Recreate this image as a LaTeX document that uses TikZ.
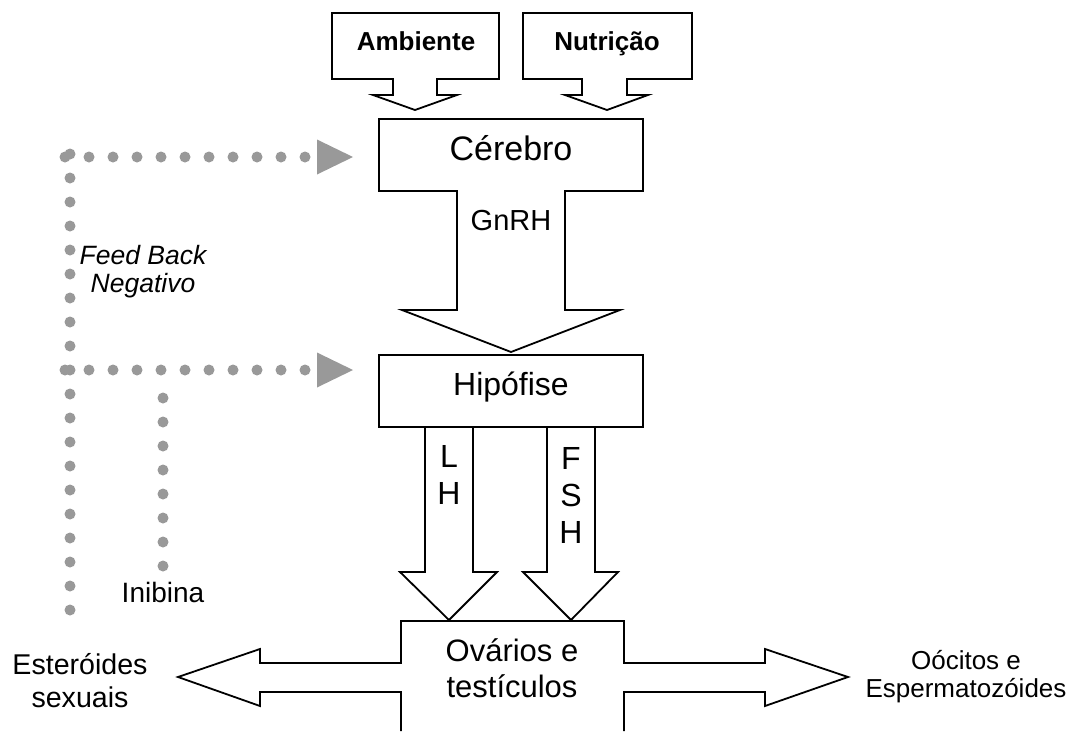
\documentclass[tikz,border=0pt]{standalone}
\usepackage{fontspec}
\setmainfont{Liberation Sans}
\usepackage{tikz}
\definecolor{fbgrey}{HTML}{999999}
\newcommand{\fsz}[2]{\fontsize{#1}{#2}\selectfont}

\begin{document}
\begin{tikzpicture}[x=1pt,y=-1pt,
    outline/.style={draw=black,line width=1.8pt,fill=white,line join=miter},
    dotline/.style={fbgrey,line width=11pt,line cap=round,dash pattern=on 0pt off 24pt},
    lbl/.style={inner sep=0pt,align=center}]
    \useasboundingbox (0,0) rectangle (1073,731);
    % callouts on top
    \draw[outline] (332,13)--(499,13)--(499,79)--(437,79)--(437,95)--(457,95)--(415,110)
      --(373,95)--(393,95)--(393,79)--(332,79)--cycle;
    \draw[outline] (523,13)--(692,13)--(692,79)--(627,79)--(627,95)--(648,95)--(607,110)
      --(565,95)--(582,95)--(582,79)--(523,79)--cycle;
    \node[lbl,font=\fsz{26}{30}\bfseries,anchor=base] (ambiente) at (416,50) {Ambiente};
    \node[lbl,font=\fsz{26}{30}\bfseries,anchor=base] (nutricao) at (607,50) {Nutrição};
    % brain with GnRH arrow
    \draw[outline] (379,119)--(643,119)--(643,191)--(565,191)--(565,310)--(620,310)--(511,352)
      --(402,310)--(457,310)--(457,191)--(379,191)--cycle;
    \node[lbl,font=\fsz{34}{40},anchor=base] (cerebro) at (511,160) {Cérebro};
    \node[lbl,font=\fsz{29}{34},anchor=base] (gnrh) at (511,230) {GnRH};
    % pituitary, LH and FSH
    \draw[outline] (425,427)--(425,572)--(400,572)--(449,620)--(497,572)--(473,572)--(473,427);
    \draw[outline] (547,427)--(547,572)--(523,572)--(571,620)--(618,572)--(595,572)--(595,427);
    \draw[outline] (379,355) rectangle (643,427);
    \node[lbl,font=\fsz{32}{37},anchor=base] (hipofise) at (511,395) {Hipófise};
    \node[lbl,font=\fsz{32}{37}] (lh) at (449,475) {L\\H};
    \node[lbl,font=\fsz{32}{37}] (fsh) at (571,495) {F\\S\\H};
    % gonads
    \draw[outline] (624,731)--(624,692)--(765,692)--(765,706)--(848,677)--(765,649)--(765,663)
      --(624,663)--(624,621)--(401,621)--(401,663)--(260,663)--(260,649)--(178,677)
      --(260,706)--(260,692)--(401,692)--(401,731);
    \node[lbl,font=\fsz{31}{36}] (ovarios) at (512,668) {Ovários e\\testículos};
    \node[lbl,font=\fsz{28.6}{33}] (esteroides) at (80,681) {Esteróides\\sexuais};
    \node[lbl,font=\fsz{26}{28}] (oocitos) at (966,677) {Oócitos e\\Espermatozóides};
    % negative feedback
    \coordinate (fbtop) at (65,157);
    \coordinate (fbmid) at (65,370);
    \coordinate (fbbot) at (70,610);
    \coordinate (inbot) at (163,566);
    \coordinate (tipa) at (317,157);
    \coordinate (tipb) at (317,370);
    \draw[dotline] (fbbot) -- ++(0,-460);
    \draw[dotline] (fbtop) -- (tipa);
    \draw[dotline] (fbmid) -- (tipb);
    \draw[dotline] (inbot) -- ++(0,-172);
    \fill[fbgrey] (tipa) ++(0,-17.5) -- ++(36,17.5) -- ++(-36,17.5) -- cycle;
    \fill[fbgrey] (tipb) ++(0,-17.5) -- ++(36,17.5) -- ++(-36,17.5) -- cycle;
    \node[lbl,font=\fsz{26.5}{28}\itshape] (feedback) at (143,272) {Feed Back\\Negativo};
    \node[lbl,font=\fsz{28}{32},anchor=base] (inibina) at (163,602) {Inibina};
  \end{tikzpicture}
\end{document}
